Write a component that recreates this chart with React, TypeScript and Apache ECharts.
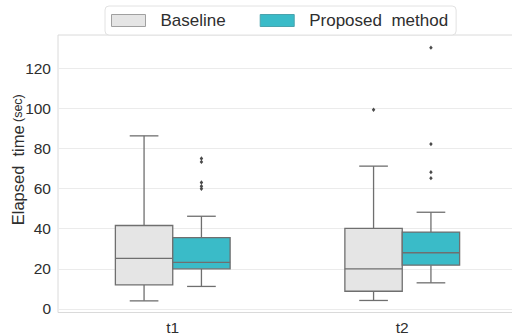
import React, { useEffect, useRef } from "react";
import * as echarts from "echarts";

const categories = ["t1", "t2"];
const seriesNames = ["Baseline", "Proposed  method"];
// [category, lower whisker, Q1, median, Q3, upper whisker]
const baselineStats = [
  ["t1", 4, 12, 25.2, 41.6, 86.3],
  ["t2", 4.2, 8.8, 20, 40.2, 71.2],
];
const proposedStats = [
  ["t1", 11.2, 20, 23.2, 35.5, 46.2],
  ["t2", 13, 21.8, 28, 38.3, 48.2],
];
const baselineOutliers = [["t2", 99.3]];
const proposedOutliers = [
  ["t1", 75],
  ["t1", 73.3],
  ["t1", 63],
  ["t1", 61.2],
  ["t1", 59.9],
  ["t2", 130.3],
  ["t2", 82.2],
  ["t2", 68.2],
  ["t2", 65.2],
];
const yMin = -1.8;
const yMax = 136.6;

const FONT = "'Liberation Sans', Arial, sans-serif";
const TEXT = "#2e2e2e";
const EDGE = "#6f6f6f";
const BASE_FILL = "#e5e5e5";
const PROP_FILL = "#3abbc8";

function boxRenderer(offsetFrac: number, fill: string) {
  return (params: any, api: any) => {
    const cat = api.value(0);
    const lo = api.value(1);
    const q1 = api.value(2);
    const med = api.value(3);
    const q3 = api.value(4);
    const hi = api.value(5);
    const band = api.size([1, 0])[0];
    const cx = api.coord([cat, med])[0] + offsetFrac * band;
    const bw = band * 0.25;
    const cap = bw / 4;
    const y = (v: number) => api.coord([cat, v])[1];
    const ls = { stroke: EDGE, lineWidth: 1.3 };
    return {
      type: "group",
      children: [
        { type: "line", shape: { x1: cx, y1: y(q3), x2: cx, y2: y(hi) }, style: ls },
        { type: "line", shape: { x1: cx, y1: y(q1), x2: cx, y2: y(lo) }, style: ls },
        { type: "line", shape: { x1: cx - cap, y1: y(hi), x2: cx + cap, y2: y(hi) }, style: ls },
        { type: "line", shape: { x1: cx - cap, y1: y(lo), x2: cx + cap, y2: y(lo) }, style: ls },
        {
          type: "rect",
          shape: { x: cx - bw / 2, y: y(q3), width: bw, height: y(q1) - y(q3) },
          style: { fill, stroke: EDGE, lineWidth: 1.3 },
        },
        { type: "line", shape: { x1: cx - bw / 2, y1: y(med), x2: cx + bw / 2, y2: y(med) }, style: ls },
      ],
    };
  };
}

function outlierRenderer(offsetFrac: number) {
  return (params: any, api: any) => {
    const cat = api.value(0);
    const v = api.value(1);
    const band = api.size([1, 0])[0];
    const p = api.coord([cat, v]);
    const cx = p[0] + offsetFrac * band;
    const cy = p[1];
    const r = 2.2;
    return {
      type: "polygon",
      shape: { points: [[cx, cy - r], [cx + r * 0.8, cy], [cx, cy + r], [cx - r * 0.8, cy]] },
      style: { fill: "#4a4a4a" },
    };
  };
}

export default function App() {
  const ref = useRef<HTMLDivElement>(null);
  useEffect(() => {
    if (!ref.current) return;
    const chart = echarts.init(ref.current, undefined, { renderer: "svg" });
    chart.setOption({
      animation: false,
      backgroundColor: "#ffffff",
      textStyle: { fontFamily: FONT },
      legend: {
        left: 105,
        top: 6,
        padding: [6, 8, 6, 6],
        itemGap: 34,
        itemWidth: 34,
        itemHeight: 12,
        icon: "rect",
        backgroundColor: "#ffffff",
        borderColor: "#e2e2e2",
        borderWidth: 1,
        borderRadius: 4,
        z: 10,
        textStyle: { fontSize: 17, color: TEXT, fontFamily: FONT, padding: [0, 0, 0, 10] },
        data: [
          { name: seriesNames[0], itemStyle: { color: BASE_FILL, borderColor: "#a0a0a0", borderWidth: 1 } },
          { name: seriesNames[1], itemStyle: { color: PROP_FILL, borderColor: "#4aa3ad", borderWidth: 1 } },
        ],
      },
      grid: {
        left: 58,
        top: 35,
        width: 459,
        height: 277.5,
        show: true,
        outerBoundsMode: "none",
        containLabel: false,
        borderColor: "#dadada",
        borderWidth: 1,
        backgroundColor: "transparent",
      },
      xAxis: {
        type: "category",
        data: categories,
        boundaryGap: true,
        axisLine: { show: false },
        axisTick: { show: false },
        splitLine: { show: false },
        axisLabel: { fontSize: 15.5, color: TEXT, fontFamily: FONT, margin: 7 },
      },
      yAxis: {
        type: "value",
        min: yMin,
        max: yMax,
        splitNumber: 7,
        axisLine: { show: false },
        axisTick: { show: false },
        axisLabel: {
          fontSize: 15.5,
          color: TEXT,
          fontFamily: FONT,
          margin: 7,
          showMinLabel: false,
          showMaxLabel: false,
        },
        splitLine: {
          show: true,
          showMinLine: false,
          showMaxLine: false,
          lineStyle: { color: "#ebebeb", width: 1 },
        },
        name: "{a|Elapsed  time} {b|(sec)}",
        nameLocation: "middle",
        nameRotate: 90,
        nameGap: 32,
        nameMoveOverlap: false,
        nameTextStyle: {
          color: TEXT,
          fontFamily: FONT,
          padding: [0, 0, 0, 28],
          rich: {
            a: { fontSize: 16.5, color: TEXT, fontFamily: FONT },
            b: { fontSize: 12.5, color: TEXT, fontFamily: FONT },
          },
        },
      },
      series: [
        {
          name: seriesNames[0],
          type: "custom",
          itemStyle: { color: BASE_FILL },
          encode: { x: 0, y: [1, 2, 3, 4, 5] },
          data: baselineStats,
          renderItem: boxRenderer(-0.125, BASE_FILL),
          z: 3,
        },
        {
          name: seriesNames[1],
          type: "custom",
          itemStyle: { color: PROP_FILL },
          encode: { x: 0, y: [1, 2, 3, 4, 5] },
          data: proposedStats,
          renderItem: boxRenderer(0.125, PROP_FILL),
          z: 3,
        },
        {
          name: "Baseline outliers",
          type: "custom",
          encode: { x: 0, y: 1 },
          data: baselineOutliers,
          renderItem: outlierRenderer(-0.125),
          z: 4,
        },
        {
          name: "Proposed outliers",
          type: "custom",
          encode: { x: 0, y: 1 },
          data: proposedOutliers,
          renderItem: outlierRenderer(0.125),
          z: 4,
        },
      ],
    });
    return () => chart.dispose();
  }, []);
  return (
    <div
      ref={ref}
      style={{ position: "fixed", left: 0, top: 0, width: 512, height: 336 }}
    />
  );
}
